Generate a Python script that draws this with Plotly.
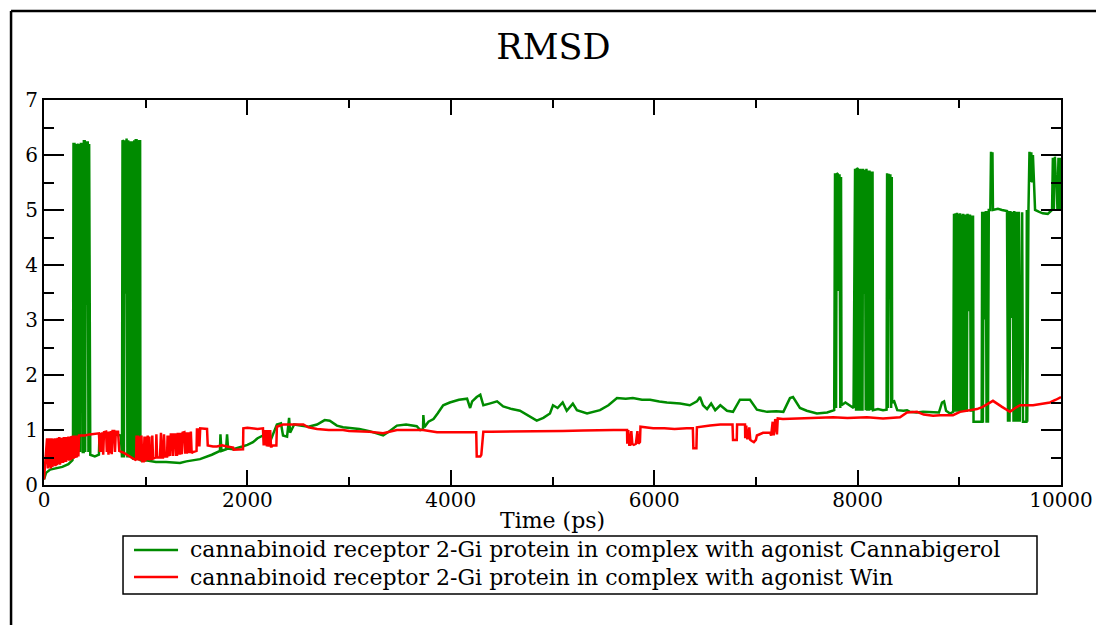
import plotly.graph_objects as go

title_text = "RMSD"
x_title = "Time (ps)"
green_name = "cannabinoid receptor 2-Gi protein in complex with agonist Cannabigerol"
red_name = "cannabinoid receptor 2-Gi protein in complex with agonist Win"

x_ticks = [0, 2000, 4000, 6000, 8000, 10000]
y_ticks = [0, 1, 2, 3, 4, 5, 6, 7]

# Cannabigerol complex (green)
green_time = [
    0, 20, 60, 120, 180, 240, 280,
    285, 290, 300, 305, 312, 320, 327, 335, 340, 347, 355, 362, 370, 378, 381, 390,
    392, 400, 405, 412, 420, 426, 430, 437, 444, 448,
    455, 500, 540, 545, 600, 650, 700, 755,
    767, 772, 780, 786, 793, 800, 808, 812, 820, 828, 836, 843, 850, 857, 865, 872, 876,
    884, 887, 895, 902, 910, 916, 923, 931, 938, 945, 948,
    960, 1000, 1100, 1200, 1337, 1400, 1534, 1650, 1700, 1730, 1735, 1745, 1790, 1800, 1810,
    1860, 1950, 2000, 2055, 2100, 2155, 2190, 2230, 2290, 2330, 2350, 2390, 2410, 2420,
    2460, 2520, 2600, 2685, 2760, 2810, 2880, 2940, 3010, 3100, 3200, 3300, 3335, 3400,
    3470, 3560, 3665, 3700, 3727, 3730, 3740, 3780, 3830, 3870, 3925, 3990, 4080, 4160,
    4190, 4210, 4255, 4290, 4320, 4380, 4455, 4515, 4600, 4680, 4760, 4845, 4910, 4975,
    5005, 5050, 5100, 5140, 5200, 5240, 5340, 5467, 5550, 5634, 5720, 5790, 5880, 5960,
    6050, 6125, 6255, 6350, 6420, 6450, 6480, 6520, 6560, 6600, 6650, 6716, 6775, 6843,
    6942, 7010, 7110, 7200, 7270, 7335, 7365, 7433, 7500, 7600, 7700, 7770,
    7778, 7788, 7795, 7805, 7812, 7818, 7822, 7830, 7837, 7842,
    7880, 7920, 7960,
    7975, 7985, 7992, 8000, 8006, 8013, 8021, 8028, 8036, 8043, 8048,
    8053, 8060, 8067, 8072, 8080, 8087, 8095, 8102, 8110, 8117, 8125, 8132, 8140, 8147, 8152,
    8200, 8250, 8285,
    8290, 8298, 8305, 8312, 8318, 8322, 8330, 8336, 8340,
    8360, 8390, 8450, 8486, 8515, 8580, 8643, 8712, 8800, 8830, 8850, 8870, 8909, 8940,
    8948, 8956, 8963, 8971, 8978, 8986, 8993, 9001, 9008, 9016, 9023, 9031, 9038, 9046, 9053, 9058,
    9066, 9074, 9081, 9089, 9097, 9105, 9113, 9120, 9128, 9135, 9140,
    9180, 9220,
    9225, 9232, 9239, 9246, 9254, 9261, 9268, 9275, 9282, 9290,
    9305, 9312, 9320, 9326, 9331, 9380, 9420, 9469,
    9479, 9487, 9494, 9502, 9510, 9518, 9525, 9533, 9540, 9548, 9556, 9563, 9571, 9578,
    9586, 9594, 9602, 9610, 9618, 9626, 9660, 9664, 9668, 9674,
    9680, 9690, 9700, 9708, 9716, 9724, 9732, 9740, 9745,
    9780, 9820, 9870, 9912,
    9920, 9930, 9940, 9950, 9958, 9965, 9975, 9985, 9992, 10000,
]
green_rmsd = [
    0.10, 0.22, 0.28, 0.30, 0.33, 0.38, 0.45,
    0.55, 6.20, 6.20, 0.60, 6.20, 0.60, 6.20, 6.18, 0.60, 6.20, 0.60, 6.20, 6.20, 6.20, 0.60, 0.60,
    6.25, 6.25, 0.60, 6.25, 3.30, 3.30, 6.25, 0.60, 6.20, 0.55,
    0.55, 0.52, 0.55, 0.88, 0.90, 0.88, 0.92, 0.90,
    0.50, 6.27, 6.25, 0.50, 6.27, 3.50, 3.50, 6.30, 0.50, 6.27, 0.50, 6.25, 0.50, 6.25, 0.48, 6.25, 0.48,
    0.48, 6.27, 0.47, 6.27, 6.27, 0.46, 6.27, 0.45, 6.25, 6.25, 0.45,
    0.44, 0.45, 0.42, 0.42, 0.40, 0.43, 0.47, 0.55, 0.60, 0.62, 0.92, 0.62, 0.65, 0.92, 0.66,
    0.65, 0.70, 0.73, 0.78, 0.85, 0.90, 0.85, 0.82, 1.10, 1.12, 0.90, 0.88, 1.22, 0.95,
    1.10, 1.08, 1.06, 1.10, 1.18, 1.17, 1.08, 1.05, 1.04, 1.02, 0.98, 0.92, 0.90, 0.98,
    1.08, 1.10, 1.07, 1.00, 1.02, 1.27, 1.05, 1.15, 1.20, 1.30, 1.45, 1.50, 1.55, 1.57,
    1.40, 1.52, 1.60, 1.64, 1.45, 1.48, 1.52, 1.43, 1.38, 1.35, 1.27, 1.17, 1.22, 1.30,
    1.45, 1.40, 1.50, 1.35, 1.48, 1.36, 1.30, 1.36, 1.45, 1.58, 1.57, 1.58, 1.55, 1.55,
    1.52, 1.50, 1.48, 1.45, 1.52, 1.60, 1.45, 1.38, 1.48, 1.36, 1.45, 1.35, 1.33, 1.55,
    1.55, 1.37, 1.33, 1.34, 1.33, 1.58, 1.60, 1.40, 1.35, 1.30, 1.32, 1.36,
    5.67, 1.40, 5.67, 5.65, 3.55, 3.55, 5.65, 1.40, 5.60, 1.45,
    1.50, 1.45, 1.40,
    5.75, 1.35, 5.76, 5.75, 1.35, 5.75, 1.35, 5.75, 1.35, 5.73, 1.35,
    5.75, 3.50, 3.50, 5.73, 1.36, 5.75, 1.35, 5.72, 1.35, 5.72, 1.36, 5.70, 1.36, 5.70, 1.36,
    1.38, 1.36, 1.37,
    5.67, 1.40, 5.66, 3.40, 3.40, 5.65, 1.40, 5.60, 1.50,
    1.52, 1.36, 1.35, 1.36, 1.33, 1.32, 1.33, 1.33, 1.32, 1.50, 1.52, 1.35, 1.30, 1.33,
    4.93, 1.33, 4.94, 1.33, 4.95, 1.33, 4.93, 1.33, 4.94, 1.33, 4.92, 1.33, 4.93, 1.33, 4.92, 1.33,
    4.92, 1.33, 4.93, 3.18, 3.18, 4.92, 1.33, 4.90, 1.33, 4.90, 1.15,
    1.15, 1.15,
    4.97, 1.13, 4.97, 3.03, 3.03, 4.98, 1.13, 4.98, 1.13, 5.00,
    5.00, 6.06, 5.55, 6.05, 5.00, 5.02, 5.00, 4.98,
    1.15, 4.98, 1.15, 4.98, 3.06, 3.06, 4.97, 1.15, 4.98, 1.15, 4.97, 1.15, 4.97, 1.15,
    4.97, 1.15, 3.05, 3.05, 4.96, 1.15, 1.15, 5.00, 1.15, 5.00,
    5.00, 6.06, 5.51, 6.05, 5.50, 6.00, 5.50, 5.05, 5.00,
    4.97, 4.94, 4.93, 5.00,
    5.95, 5.00, 5.97, 5.50, 5.50, 5.00, 5.95, 5.00, 5.95, 5.00,
]

# Win complex (red)
red_time = [
    0, 30, 38, 45, 53, 60, 68, 75, 83, 90, 98, 105, 113, 120, 128, 135, 143, 150, 158, 165,
    173, 180, 188, 195, 203, 210, 218, 225, 233, 240, 248, 255, 263, 270, 278, 285, 293,
    300, 308, 315, 323, 330, 338, 345, 355,
    400, 450, 500, 540,
    550, 558, 566, 574, 582, 590, 610, 618, 626, 634, 642, 650, 658, 666, 674, 690, 698, 706, 728,
    740, 790, 840, 880, 905,
    910, 918, 926, 934, 942, 950, 958, 966, 980, 988, 996, 1004, 1012, 1020, 1028, 1036, 1042,
    1060, 1065, 1072, 1100, 1105, 1112, 1140,
    1150, 1158, 1170, 1180, 1188, 1210,
    1215, 1223, 1231, 1239, 1247, 1260, 1268, 1276, 1290, 1298, 1308,
    1315, 1323, 1331, 1339, 1347, 1355, 1363, 1380, 1388, 1396, 1404, 1412, 1420, 1428, 1436,
    1444, 1452, 1465, 1500,
    1504, 1512, 1520, 1528, 1536, 1560, 1580, 1603, 1610, 1662, 1700, 1750, 1800, 1860,
    1865, 1957, 1960, 2000, 2100, 2153,
    2160, 2168, 2176, 2184, 2192, 2200, 2208, 2216, 2224, 2232, 2240, 2250, 2270, 2285,
    2290, 2350, 2450, 2550, 2600, 2685, 2800, 2940, 3000, 3100, 3200, 3335, 3400, 3470,
    3600, 3727, 3865, 4000, 4190, 4250, 4255, 4290, 4300, 4320, 4400, 4500, 4700, 4900,
    5100, 5300, 5467, 5600, 5733,
    5735, 5745, 5755, 5765, 5775, 5785, 5800, 5820, 5835, 5845, 5860, 5865,
    5900, 5990, 6100, 6200, 6320, 6380, 6385, 6415, 6420, 6450, 6550, 6650, 6716, 6770,
    6775, 6812, 6815, 6850, 6893,
    6895, 6905, 6915, 6925, 6935, 6945, 6960, 6980, 7000, 7010,
    7070, 7140, 7150, 7165, 7175, 7190, 7207, 7215, 7266, 7400, 7600, 7758, 7900, 8092,
    8250, 8417, 8486, 8584, 8650, 8742, 8810, 8938, 9007, 9100, 9174, 9230, 9331, 9420,
    9498, 9550, 9597, 9725, 9793, 9892, 9950, 9990, 10000,
]
red_rmsd = [
    0.10, 0.85, 0.30, 0.85, 0.32, 0.85, 0.30, 0.85, 0.33, 0.84, 0.35, 0.85, 0.34, 0.85, 0.36, 0.86, 0.38, 0.87, 0.37, 0.86,
    0.40, 0.86, 0.40, 0.87, 0.42, 0.87, 0.42, 0.87, 0.45, 0.88, 0.44, 0.88, 0.45, 0.89, 0.47, 0.90, 0.48,
    0.90, 0.49, 0.90, 0.50, 0.90, 0.52, 0.90, 0.90,
    0.90, 0.92, 0.93, 0.94,
    0.60, 0.95, 0.60, 0.96, 0.55, 0.96, 0.97, 0.60, 0.97, 0.55, 0.97, 0.58, 0.98, 0.56, 0.98, 0.98, 0.60, 0.97, 0.97,
    0.62, 0.58, 0.52, 0.48, 0.45,
    0.90, 0.45, 0.90, 0.44, 0.88, 0.44, 0.90, 0.43, 0.43, 0.88, 0.43, 0.88, 0.45, 0.90, 0.45, 0.88, 0.47,
    0.48, 0.90, 0.48, 0.50, 0.92, 0.50, 0.50,
    0.95, 0.50, 0.50, 0.92, 0.52, 0.52,
    0.90, 0.52, 0.90, 0.53, 0.92, 0.92, 0.53, 0.92, 0.92, 0.55, 0.55,
    0.95, 0.55, 0.95, 0.55, 0.95, 0.56, 0.95, 0.96, 0.57, 0.96, 0.57, 0.96, 0.58, 0.96, 0.58,
    0.97, 0.58, 0.60, 0.62,
    1.03, 0.70, 1.03, 0.70, 1.03, 1.03, 1.02, 1.02, 0.72, 0.70, 0.70, 0.72, 0.70, 0.68,
    0.64, 0.65, 1.03, 1.04, 1.02, 1.03,
    0.72, 1.00, 0.72, 1.00, 0.70, 1.00, 0.72, 0.72, 1.00, 0.70, 0.70, 0.72, 0.72, 0.72,
    1.06, 1.10, 1.10, 1.10, 1.05, 1.02, 1.00, 1.00, 0.98, 0.98, 0.97, 0.94, 0.97, 1.00,
    1.00, 1.00, 0.96, 0.96, 0.96, 0.96, 0.52, 0.52, 0.55, 0.97, 0.97, 0.97, 0.97, 0.98,
    0.98, 0.99, 1.00, 1.00, 1.00,
    0.75, 1.00, 0.73, 0.73, 0.98, 0.75, 0.73, 0.75, 0.98, 0.75, 0.78, 1.06,
    1.05, 1.03, 1.03, 1.02, 1.03, 1.03, 0.67, 0.67, 1.05, 1.06, 1.08, 1.10, 1.10, 1.10,
    0.82, 0.82, 1.10, 1.10, 1.10,
    0.85, 1.08, 0.85, 0.85, 1.05, 0.82, 0.80, 0.78, 0.82, 0.90,
    0.95, 0.95, 0.90, 1.15, 0.90, 1.20, 0.92, 1.21, 1.20, 1.21, 1.23, 1.23, 1.22, 1.23,
    1.21, 1.23, 1.32, 1.33, 1.28, 1.26, 1.27, 1.27, 1.33, 1.36, 1.38, 1.42, 1.53, 1.42,
    1.33, 1.40, 1.45, 1.45, 1.47, 1.50, 1.55, 1.60, 1.60,
]

GREEN = "rgb(0,139,0)"
RED = "rgb(255,0,0)"
FONT = "DejaVu Serif"

fig = go.Figure()
fig.add_trace(go.Scatter(x=green_time, y=green_rmsd, mode="lines", name=green_name,
                         line=dict(color=GREEN, width=2.5), showlegend=False))
fig.add_trace(go.Scatter(x=red_time, y=red_rmsd, mode="lines", name=red_name,
                         line=dict(color=RED, width=2.5), showlegend=False))

axis_common = dict(showline=True, linecolor="black", linewidth=2, mirror="ticks",
                   ticks="inside", tickcolor="black", tickwidth=2, showgrid=False,
                   zeroline=False, automargin=False,
                   tickfont=dict(family=FONT, size=20, color="black"))

fig.update_xaxes(range=[0, 10000], tickvals=x_ticks, ticktext=[str(v) for v in x_ticks],
                 ticklen=15, ticklabelstandoff=-4,
                 minor=dict(dtick=1000, ticklen=8, ticks="inside",
                            tickcolor="black", tickwidth=2),
                 **axis_common)
fig.update_yaxes(range=[0, 7], tickvals=y_ticks, ticktext=[str(v) for v in y_ticks],
                 ticklen=20, minor=dict(dtick=0.5, ticklen=10, ticks="inside",
                                        tickcolor="black", tickwidth=2),
                 **axis_common)

# legend box drawn in paper coordinates below the plot area
leg_x0, leg_x1 = 0.0777, 0.9764
leg_y0, leg_y1 = -0.2831, -0.1325
row_y = [-0.1688, -0.2390]
sample_x0, sample_x1 = 0.0885, 0.1318
text_x = 0.1416

annotations = [
    dict(text=x_title, xref="paper", yref="paper", x=0.5, y=-0.0935,
         xanchor="center", yanchor="middle", showarrow=False,
         font=dict(family=FONT, size=22, color="black")),
]
shapes = [
    dict(type="line", xref="paper", yref="paper", x0=-0.0324, x1=-0.0324, y0=-2, y1=1.231,
         line=dict(color="black", width=2.5)),
    dict(type="line", xref="paper", yref="paper", x0=-0.0324, x1=2, y0=1.231, y1=1.231,
         line=dict(color="black", width=2.5)),
    dict(type="rect", xref="paper", yref="paper", x0=leg_x0, x1=leg_x1, y0=leg_y0, y1=leg_y1,
         line=dict(color="black", width=1.5), fillcolor="white", layer="below"),
]
for name, color, ry in [(green_name, GREEN, row_y[0]), (red_name, RED, row_y[1])]:
    shapes.append(dict(type="line", xref="paper", yref="paper", x0=sample_x0, x1=sample_x1,
                       y0=ry, y1=ry, line=dict(color=color, width=2.5)))
    annotations.append(dict(text=name, xref="paper", yref="paper", x=text_x, y=ry,
                            xanchor="left", yanchor="middle", showarrow=False,
                            font=dict(family=FONT, size=22, color="black")))

fig.update_layout(
    width=1096, height=625, autosize=False,
    margin=dict(l=44, r=35, t=100, b=140, autoexpand=False),
    paper_bgcolor="white", plot_bgcolor="white",
    title=dict(text=title_text, x=0.505, xanchor="center", y=1 - 47 / 625, yanchor="middle",
               font=dict(family=FONT, size=35, color="black")),
    showlegend=False,
    annotations=annotations,
    shapes=shapes,
)

fig.write_html("out.html", config={"displayModeBar": False},
               post_script="document.body.style.margin='0';document.body.style.overflow='hidden';")
